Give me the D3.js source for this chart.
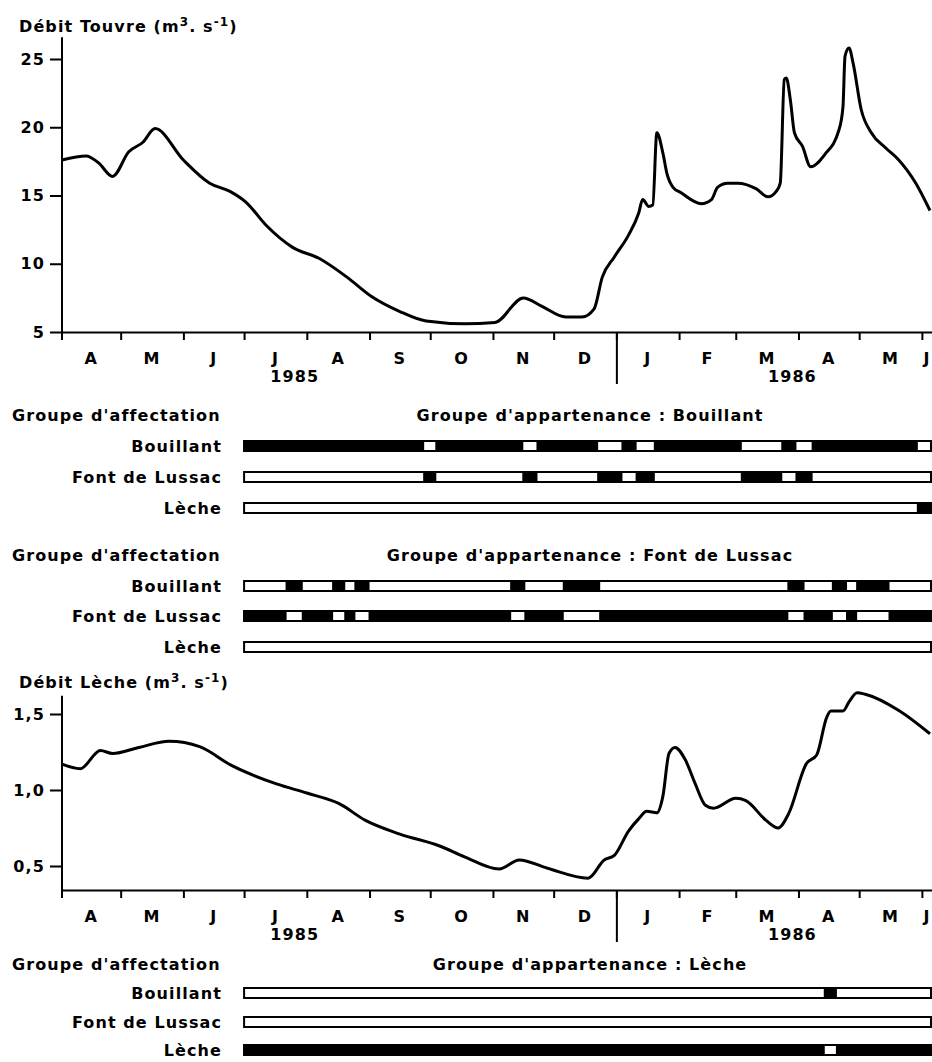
<!DOCTYPE html>
<html><head><meta charset="utf-8">
<script src="https://cdn.jsdelivr.net/npm/d3@7"></script>
<style>
body{margin:0;background:#fff;}
svg text{font-family:"DejaVu Sans",sans-serif;font-weight:bold;fill:#000;letter-spacing:1.1px;}
</style></head><body>
<svg id="c" width="932" height="1062"></svg>
<script>
// ---------- data ----------
const periodStart = "1985-04-02";
const periodEnd = "1986-06-06";
const monthStarts = ["1985-05-01","1985-06-01","1985-07-01","1985-08-01","1985-09-01","1985-10-01","1985-11-01","1985-12-01","1986-01-01","1986-02-01","1986-03-01","1986-04-01","1986-05-01","1986-06-01"];
const monthLabels = ["A","M","J","J","A","S","O","N","D","J","F","M","A","M","J"];
const yearBoundary = "1986-01-01";
const yearLabels = ["1985","1986"];
const yearLabelDates = ["1985-07-26","1986-03-29"];

const touvreTicks = [5,10,15,20,25];
const touvreDates = ["1985-04-02","1985-04-14","1985-04-20","1985-04-27","1985-05-05","1985-05-12","1985-05-18","1985-06-01","1985-06-14","1985-06-24","1985-07-02","1985-07-12","1985-07-25","1985-08-07","1985-08-21","1985-09-02","1985-09-16","1985-09-29","1985-10-18","1985-11-02","1985-11-16","1985-11-25","1985-12-07","1985-12-15","1985-12-21","1985-12-25","1985-12-31","1986-01-07","1986-01-12","1986-01-14","1986-01-17","1986-01-19","1986-01-21","1986-01-24","1986-01-26","1986-01-29","1986-02-02","1986-02-12","1986-02-17","1986-02-20","1986-02-25","1986-03-02","1986-03-11","1986-03-17","1986-03-21","1986-03-23","1986-03-25","1986-03-26","1986-03-28","1986-03-30","1986-04-03","1986-04-07","1986-04-14","1986-04-21","1986-04-23","1986-04-24","1986-04-26","1986-04-28","1986-05-02","1986-05-07","1986-05-14","1986-05-20","1986-05-29","1986-06-05"];
const touvreValues = [17.6,17.9,17.4,16.4,18.2,18.9,19.9,17.6,15.9,15.3,14.5,12.8,11.2,10.4,9.0,7.6,6.5,5.8,5.6,5.7,7.5,6.9,6.1,6.1,6.7,9.0,10.5,12.1,13.7,14.7,14.2,14.3,19.6,18.1,16.6,15.6,15.2,14.4,14.7,15.6,15.9,15.9,15.5,14.9,15.3,15.9,23.5,23.6,22.0,19.6,18.6,17.1,18.0,19.8,21.5,25.2,25.8,24.7,21.3,19.6,18.5,17.7,15.9,13.9];

const lecheTicks = [0.5,1.0,1.5];
const lecheDates = ["1985-04-02","1985-04-11","1985-04-21","1985-04-27","1985-05-10","1985-05-25","1985-06-09","1985-06-25","1985-07-17","1985-08-01","1985-08-17","1985-08-30","1985-09-16","1985-10-06","1985-10-18","1985-11-04","1985-11-14","1985-11-28","1985-12-18","1985-12-26","1985-12-31","1986-01-07","1986-01-12","1986-01-16","1986-01-21","1986-01-24","1986-01-27","1986-01-30","1986-02-04","1986-02-09","1986-02-14","1986-02-18","1986-03-01","1986-03-06","1986-03-16","1986-03-22","1986-03-27","1986-04-05","1986-04-10","1986-04-15","1986-04-17","1986-04-23","1986-04-26","1986-04-30","1986-05-04","1986-05-21","1986-06-05"];
const lecheValues = [1.17,1.14,1.26,1.24,1.28,1.32,1.285,1.16,1.04,0.98,0.91,0.80,0.71,0.63,0.56,0.48,0.54,0.485,0.42,0.54,0.57,0.73,0.81,0.86,0.85,0.96,1.24,1.28,1.20,1.04,0.90,0.88,0.945,0.93,0.80,0.75,0.84,1.175,1.23,1.48,1.52,1.52,1.58,1.64,1.63,1.52,1.37];

const affectationGroups = ["Bouillant","Font de Lussac","Lèche"];
const appartenanceTitles = ["Groupe d'appartenance : Bouillant","Groupe d'appartenance : Font de Lussac","Groupe d'appartenance : Lèche"];
const bouillantBreaks = ["1985-07-01","1985-09-28","1985-10-04","1985-11-16","1985-11-23","1985-12-23","1986-01-04","1986-01-11","1986-01-20","1986-03-04","1986-03-24","1986-03-31","1986-04-08","1986-05-30","1986-06-06"];
const bouillantAssign = ["Bouillant","Font de Lussac","Bouillant","Font de Lussac","Bouillant","Font de Lussac","Bouillant","Font de Lussac","Bouillant","Font de Lussac","Bouillant","Font de Lussac","Bouillant","Lèche"];
const fontBreaks = ["1985-07-01","1985-07-22","1985-07-30","1985-08-14","1985-08-20","1985-08-25","1985-09-01","1985-11-10","1985-11-17","1985-12-06","1985-12-24","1986-03-27","1986-04-04","1986-04-18","1986-04-25","1986-04-30","1986-05-16","1986-06-06"];
const fontAssign = ["Font de Lussac","Bouillant","Font de Lussac","Bouillant","Font de Lussac","Bouillant","Font de Lussac","Bouillant","Font de Lussac","Bouillant","Font de Lussac","Bouillant","Font de Lussac","Bouillant","Font de Lussac","Bouillant","Font de Lussac"];
const lecheBreaks = ["1985-07-01","1986-04-14","1986-04-20","1986-06-06"];
const lecheAssign = ["Lèche","Bouillant","Lèche"];

// ---------- drawing ----------
const svg = d3.select("#c");
const parse = d3.timeParse("%Y-%m-%d");
const x = d3.scaleTime().domain([parse(periodStart), parse(periodEnd)]).range([62, 932]);
const FS = 16;

function styleText(sel){ sel.attr("font-size", FS).attr("font-family", null); }

function timeChart(cfg){
  const g = svg.append("g");
  const y = cfg.y;
  const data = cfg.dates.map((d,i)=>({date:parse(d), v:cfg.values[i]}));
  const xa = g.append("g").attr("transform",`translate(0,${cfg.axisY})`)
    .call(d3.axisBottom(x).tickValues(monthStarts.map(parse)).tickSize(8).tickSizeOuter(0).tickFormat(""));
  xa.select(".domain").attr("stroke","#000").attr("stroke-width",2);
  xa.selectAll(".tick line").attr("stroke","#000").attr("stroke-width",2);
  const ya = g.append("g").attr("transform",`translate(0,${cfg.axisY})`)
    .call(d3.axisBottom(x).tickValues([parse(yearBoundary)]).tickSize(52).tickFormat(""));
  ya.select(".domain").remove();
  ya.selectAll(".tick line").attr("stroke","#000").attr("stroke-width",2);
  const bounds = [x.domain()[0], ...monthStarts.map(parse), x.domain()[1]];
  g.selectAll("text.month").data(monthLabels).join("text").attr("class","month")
    .attr("x",(d,i)=>(x(bounds[i])+x(bounds[i+1]))/2)
    .attr("y",cfg.axisY+32).attr("text-anchor","middle").attr("font-size",FS).text(d=>d);
  g.selectAll("text.year").data(yearLabels).join("text").attr("class","year")
    .attr("x",(d,i)=>x(parse(yearLabelDates[i])))
    .attr("y",cfg.axisY+50).attr("text-anchor","middle").attr("font-size",FS).text(d=>d);
  const yAxis = g.append("g").attr("transform","translate(62,0)")
    .call(d3.axisLeft(y).tickValues(cfg.ticks).tickSize(12).tickPadding(5).tickFormat(cfg.fmt));
  yAxis.select(".domain").remove();
  yAxis.selectAll(".tick line").attr("stroke","#000").attr("stroke-width",2);
  yAxis.selectAll(".tick text").call(styleText);
  g.append("line").attr("x1",62).attr("x2",62).attr("y1",y(cfg.yTop)).attr("y2",cfg.axisY+8)
    .attr("stroke","#000").attr("stroke-width",2);
  const t = g.append("text").attr("x",19).attr("y",cfg.titleY).attr("font-size",FS);
  t.append("tspan").text(cfg.title + " (m");
  t.append("tspan").attr("dy",-6).attr("font-size",12).text("3");
  t.append("tspan").attr("dy",6).text(". s");
  t.append("tspan").attr("dy",-6).attr("font-size",12).text("-1");
  t.append("tspan").attr("dy",6).text(")");
  g.append("path").datum(data)
    .attr("d", d3.line().x(d=>x(d.date)).y(d=>y(d.v)).curve(d3.curveMonotoneX))
    .attr("fill","none").attr("stroke","#000").attr("stroke-width",3).attr("stroke-linejoin","round");
}

function groupBars(cfg){
  const g = svg.append("g");
  g.append("text").attr("x",12).attr("y",cfg.titleY+6).attr("font-size",FS).text("Groupe d'affectation");
  g.append("text").attr("x",590).attr("y",cfg.titleY+6).attr("text-anchor","middle").attr("font-size",FS).text(cfg.title);
  const br = cfg.breaks.map(parse);
  const x0 = x(br[0]), x1 = x(br[br.length-1]);
  affectationGroups.forEach((name,r)=>{
    const cy = cfg.rowY[r];
    g.append("text").attr("x",222).attr("y",cy+6).attr("text-anchor","end").attr("font-size",FS).text(name);
    g.append("rect").attr("x",x0).attr("y",cy-5).attr("width",x1-x0-1).attr("height",10)
      .attr("fill","#fff").attr("stroke","#000").attr("stroke-width",2);
    const segs = cfg.assign.map((a,i)=>({a, s:br[i], e:br[i+1]})).filter(d=>d.a===name);
    g.selectAll(null).data(segs).join("rect")
      .attr("x",d=>x(d.s)-1).attr("y",cy-6)
      .attr("width",d=>Math.max(0,x(d.e)-x(d.s)+1)).attr("height",12).attr("fill","#000");
  });
}

timeChart({
  y: d3.scaleLinear().domain([5,25]).range([332,59]),
  axisY: 332, ticks: touvreTicks, fmt: d3.format("d"), yTop: 26.6,
  title: "Débit Touvre", titleY: 32, dates: touvreDates, values: touvreValues
});
groupBars({titleY:415, rowY:[446,477,508], breaks:bouillantBreaks, assign:bouillantAssign, title:appartenanceTitles[0]});
groupBars({titleY:555, rowY:[586,616,647], breaks:fontBreaks, assign:fontAssign, title:appartenanceTitles[1]});
timeChart({
  y: d3.scaleLinear().domain([0.5,1.5]).range([866,714]),
  axisY: 890, ticks: lecheTicks, fmt: d=>d3.format(".1f")(d).replace(".",","), yTop: 1.62,
  title: "Débit Lèche", titleY: 688, dates: lecheDates, values: lecheValues
});
groupBars({titleY:964, rowY:[993,1022,1050], breaks:lecheBreaks, assign:lecheAssign, title:appartenanceTitles[2]});
</script>
</body></html>
